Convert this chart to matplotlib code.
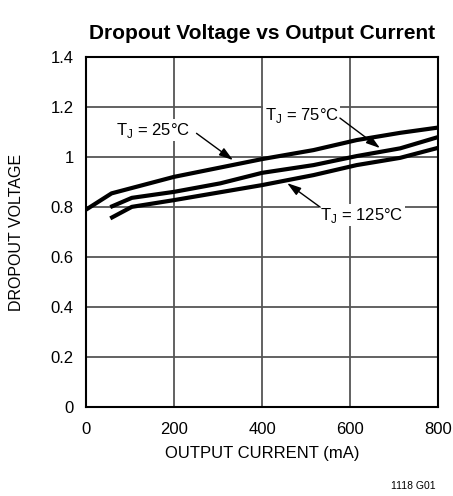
import matplotlib
matplotlib.use("Agg")
import matplotlib.pyplot as plt

plt.rcParams['font.family'] = ['Liberation Sans', 'DejaVu Sans']
plt.rcParams['mathtext.fontset'] = 'custom'
plt.rcParams['mathtext.rm'] = 'Liberation Sans'

# currents (mA) and dropout voltage (V)
i_25 = [0, 58, 200, 400, 517, 615, 714, 800]
v_25 = [0.79, 0.855, 0.921, 0.992, 1.028, 1.068, 1.097, 1.118]

i_75 = [55, 104, 200, 305, 400, 517, 615, 714, 800]
v_75 = [0.80, 0.837, 0.861, 0.895, 0.937, 0.968, 1.004, 1.035, 1.08]

i_125 = [55, 104, 200, 400, 517, 615, 714, 800]
v_125 = [0.755, 0.801, 0.828, 0.888, 0.928, 0.968, 0.997, 1.037]

xticks = [0, 200, 400, 600, 800]
yticks = [0, 0.2, 0.4, 0.6, 0.8, 1, 1.2, 1.4]
yticklabels = ['0', '0.2', '0.4', '0.6', '0.8', '1', '1.2', '1.4']

fig = plt.figure(figsize=(4.53, 4.96), dpi=100)
ax = fig.add_axes([0.19, 0.179, 0.777, 0.706])

for xs, ys in [(i_25, v_25), (i_75, v_75), (i_125, v_125)]:
    ax.plot(xs, ys, color='black', lw=3, solid_capstyle='butt', zorder=3)

ax.set_xlim(0, 800)
ax.set_ylim(0, 1.4)
ax.set_xticks(xticks)
ax.set_yticks(yticks)
ax.set_yticklabels(yticklabels)
ax.tick_params(axis='x', length=0, labelsize=12, pad=11)
ax.tick_params(axis='y', length=0, labelsize=12, pad=9)
ax.grid(True, color='#555555', lw=1.3)
ax.set_axisbelow(True)
for s in ax.spines.values():
    s.set_linewidth(1.5)

ax.set_xlabel('OUTPUT CURRENT (mA)', fontsize=12, labelpad=6)
ax.set_ylabel('DROPOUT VOLTAGE', fontsize=11.5, labelpad=19)
ax.set_title('Dropout Voltage vs Output Current', fontsize=15, fontweight='bold', pad=13)

box = dict(facecolor='white', edgecolor='none', pad=1)
arr = dict(arrowstyle='-|>,head_length=0.7,head_width=0.22', color='black', lw=1,
           mutation_scale=12, shrinkA=0, shrinkB=0)

lbl = 'T$_\\mathregular{J}$ = %s°C'
ax.text(68, 1.108, lbl % '25', fontsize=12, ha='left', va='center', bbox=box, zorder=4)
ax.annotate('', xy=(334, 0.988), xytext=(251, 1.095), arrowprops=arr, zorder=4)

ax.text(406, 1.168, lbl % '75', fontsize=12, ha='left', va='center', bbox=box, zorder=4)
ax.annotate('', xy=(668, 1.036), xytext=(577, 1.156), arrowprops=arr, zorder=4)

ax.text(532, 0.768, lbl % '125', fontsize=12, ha='left', va='center', bbox=box, zorder=4)
ax.annotate('', xy=(457, 0.896), xytext=(532, 0.80), arrowprops=arr, zorder=4)

fig.text(0.962, 0.02, '1118 G01', fontsize=7.5, ha='right', va='center')

fig.savefig('out.png', dpi=100)
